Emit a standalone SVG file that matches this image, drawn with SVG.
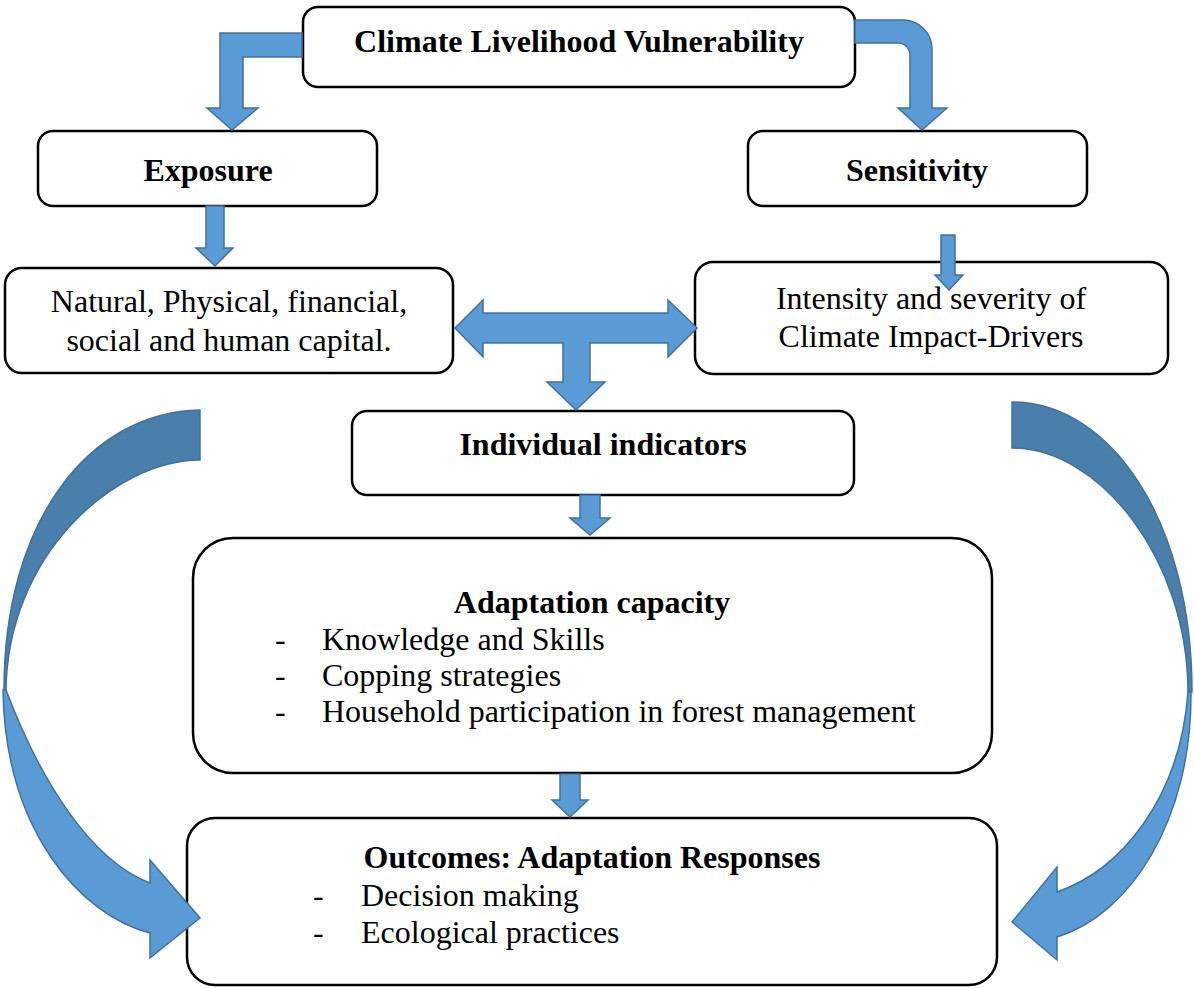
<svg xmlns="http://www.w3.org/2000/svg" width="1194" height="988" viewBox="0 0 1194 988">
  <style>
    .box { fill: #ffffff; stroke: #000000; stroke-width: 2.5; }
    .t { font-family: "Liberation Serif", "Times New Roman", serif; font-size: 32px; fill: #000000; }
    .b { font-weight: bold; }
    .mid { text-anchor: middle; }
    .arrow { fill: #5b9bd5; stroke: #41719c; stroke-width: 1.5; stroke-linejoin: miter; }
    .back { fill: #4a7eab; stroke: #41719c; stroke-width: 1.5; }
  </style>
  <rect width="1194" height="988" fill="#ffffff"/>

  <g id="vulnerability">
    <rect class="box" x="303" y="7" width="552" height="80" rx="15"/>
    <text class="t b mid" x="579" y="52">Climate Livelihood Vulnerability</text>
  </g>

  <g id="exposure">
    <rect class="box" x="38" y="131" width="339" height="75" rx="15"/>
    <text class="t b mid" x="208" y="181">Exposure</text>
  </g>

  <g id="sensitivity">
    <rect class="box" x="748" y="131" width="339" height="75" rx="15"/>
    <text class="t b mid" x="917" y="181">Sensitivity</text>
  </g>

  <g id="capitals">
    <rect class="box" x="5" y="268" width="448" height="105" rx="17"/>
    <text class="t mid" x="229" y="312">Natural, Physical, financial,</text>
    <text class="t mid" x="229" y="351">social and human capital.</text>
  </g>

  <g id="drivers">
    <rect class="box" x="695" y="262" width="473" height="112" rx="18"/>
    <text class="t mid" x="931" y="309">Intensity and severity of</text>
    <text class="t mid" x="931" y="347">Climate Impact-Drivers</text>
  </g>

  <g id="indicators">
    <rect class="box" x="352" y="411" width="502" height="84" rx="15"/>
    <text class="t b mid" x="603" y="455">Individual indicators</text>
  </g>

  <g id="adaptation">
    <rect class="box" x="193" y="538" width="799" height="235" rx="40"/>
    <text class="t b mid" x="592" y="613">Adaptation capacity</text>
    <text class="t" x="275" y="650">-</text>
    <text class="t" x="322" y="650">Knowledge and Skills</text>
    <text class="t" x="275" y="686">-</text>
    <text class="t" x="322" y="686">Copping strategies</text>
    <text class="t" x="275" y="722">-</text>
    <text class="t" x="322" y="722">Household participation in forest management</text>
  </g>

  <g id="outcomes">
    <rect class="box" x="187" y="818" width="810" height="167" rx="28"/>
    <text class="t b mid" x="592" y="868">Outcomes: Adaptation Responses</text>
    <text class="t" x="313" y="906">-</text>
    <text class="t" x="361" y="906">Decision making</text>
    <text class="t" x="313" y="943">-</text>
    <text class="t" x="361" y="943">Ecological practices</text>
  </g>

  <g id="connectors">
    <!-- bent arrow: top box to Exposure -->
    <path class="arrow" d="M302,33 L302,57 L243,57 L243,108 L258,108 L232,130 L207,108 L220,108 L220,33 Z"/>
    <!-- bent arrow: top box to Sensitivity -->
    <path class="arrow" d="M855,20 L903,20 A29,29 0 0 1 932,49 L932,108 L947,108 L922,130 L898,108 L910,108 L910,55 A12,12 0 0 0 898,43 L855,43 Z"/>
    <!-- Exposure down to capitals -->
    <path class="arrow" d="M206,206 L224,206 L224,248 L233,248 L215,266 L196,248 L206,248 Z"/>
    <!-- Sensitivity down to drivers -->
    <path class="arrow" d="M941,235 L955,235 L955,275 L963,275 L949,290 L935,275 L941,275 Z"/>
    <!-- three-way arrow between capitals, drivers and indicators -->
    <path class="arrow" d="M455,328 L483,300 L483,313 L668,313 L668,300 L697,328 L668,357 L668,343 L590,343 L590,382 L605,382 L576,410 L547,382 L563,382 L563,343 L483,343 L483,357 Z"/>
    <!-- indicators down to adaptation capacity -->
    <path class="arrow" d="M580,495 L600,495 L600,518 L610,518 L590,535 L570,518 L580,518 Z"/>
    <!-- adaptation capacity down to outcomes -->
    <path class="arrow" d="M560,774 L580,774 L580,800 L588,800 L570,817 L552,800 L560,800 Z"/>
    <!-- left curved arrow: shaded back band, then front band with head -->
    <path class="back" d="M200,410 L200,460 C115,460 6,555 6,693 L4,693 C3,520 90,412 200,410 Z"/>
    <path class="arrow" d="M6,690 C40,780 90,860 150,883 L150,860 L200,918 L150,958 L150,933 C80,915 5,830 3,690 Z"/>
    <!-- right curved arrow: shaded back band, then front band with head -->
    <path class="back" d="M1012,402 C1110,402 1192,520 1192,692 L1188,692 C1188,560 1100,448 1012,448 Z"/>
    <path class="arrow" d="M1188,692 C1180,800 1120,870 1057,892 L1057,867 L1012,922 L1057,960 L1057,937 C1130,915 1192,820 1191,692 Z"/>
  </g>
</svg>
